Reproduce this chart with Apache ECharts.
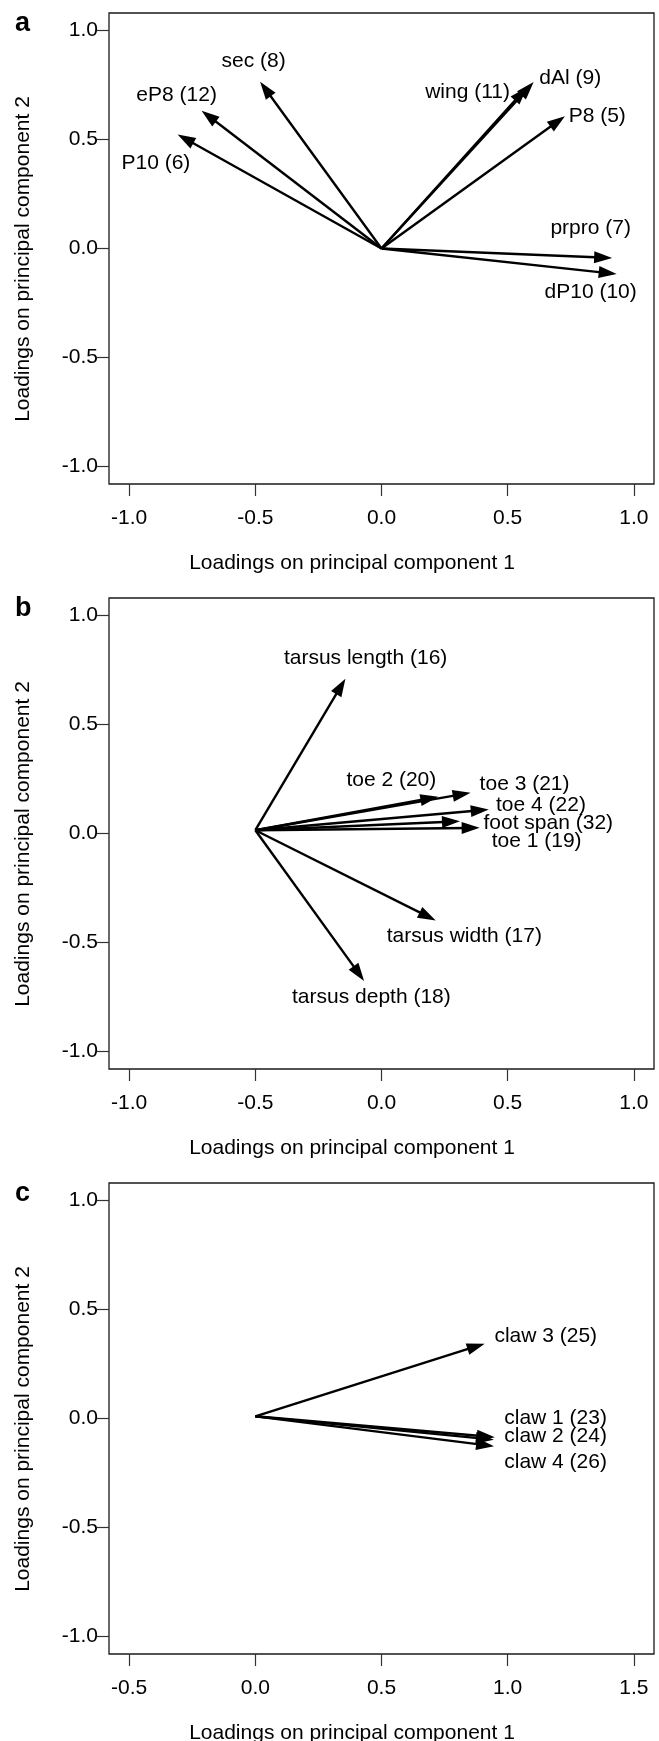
<!DOCTYPE html>
<html>
<head>
<meta charset="utf-8">
<script src="https://cdn.jsdelivr.net/npm/echarts@6/dist/echarts.min.js"></script>
<style>
  html, body { margin: 0; padding: 0; background: #fff; }
  #chart { width: 659px; height: 1741px; }
</style>
</head>
<body>
<div id="chart"></div>
<script>
// tick values
const xTicksAB = [-1, -0.5, 0, 0.5, 1];
const xTicksC = [-0.5, 0, 0.5, 1, 1.5];
const yTicks = [-1, -0.5, 0, 0.5, 1];

// panel a: wing variables
const wingNames = ['sec (8)', 'eP8 (12)', 'P10 (6)', 'wing (11)', 'dAl (9)', 'P8 (5)', 'prpro (7)', 'dP10 (10)'];
const wingPC1 = [-0.481, -0.713, -0.808, 0.577, 0.603, 0.727, 0.914, 0.932];
const wingPC2 = [0.765, 0.632, 0.523, 0.740, 0.763, 0.607, -0.043, -0.117];
const wingLabelX = [-0.507, -0.812, -0.894, 0.341, 0.748, 0.855, 0.829, 0.829];
const wingLabelY = [0.857, 0.704, 0.390, 0.715, 0.781, 0.609, 0.091, -0.201];
const wingOrigin = [0, 0];

// panel b: foot variables
const footNames = ['tarsus length (16)', 'toe 2 (20)', 'toe 3 (21)', 'toe 4 (22)', 'foot span (32)', 'toe 1 (19)', 'tarsus width (17)', 'tarsus depth (18)'];
const footPC1 = [-0.143, 0.225, 0.353, 0.425, 0.311, 0.389, 0.215, -0.069];
const footPC2 = [0.710, 0.168, 0.187, 0.110, 0.056, 0.026, -0.399, -0.676];
const footLabelX = [-0.063, 0.039, 0.567, 0.632, 0.661, 0.615, 0.328, -0.040];
const footLabelY = [0.804, 0.244, 0.225, 0.130, 0.045, -0.036, -0.470, -0.753];
const footOrigin = [-0.5, 0.015];

// panel c: claw variables
const clawNames = ['claw 3 (25)', 'claw 1 (23)', 'claw 2 (24)', 'claw 4 (26)'];
const clawPC1 = [0.909, 0.949, 0.945, 0.946];
const clawPC2 = [0.343, -0.086, -0.097, -0.127];
const clawLabelX = [1.151, 1.190, 1.190, 1.190];
const clawLabelY = [0.378, 0.003, -0.081, -0.199];
const clawOrigin = [0, 0.01];

const font = 'Liberation Sans, Arial, Helvetica, sans-serif';
const fs = 21;

const panels = [
  { letter: 'a', names: wingNames, pc1: wingPC1, pc2: wingPC2, lx: wingLabelX, ly: wingLabelY, origin: wingOrigin, xTicks: xTicksAB, xMin: -1.08, xMax: 1.08 },
  { letter: 'b', names: footNames, pc1: footPC1, pc2: footPC2, lx: footLabelX, ly: footLabelY, origin: footOrigin, xTicks: xTicksAB, xMin: -1.08, xMax: 1.08 },
  { letter: 'c', names: clawNames, pc1: clawPC1, pc2: clawPC2, lx: clawLabelX, ly: clawLabelY, origin: clawOrigin, xTicks: xTicksC, xMin: -0.58, xMax: 1.58 }
];

const step = 585;

function arrowItem(params, api) {
  const p0 = api.coord([api.value(0), api.value(1)]);
  const p1 = api.coord([api.value(2), api.value(3)]);
  const dx = p1[0] - p0[0], dy = p1[1] - p0[1];
  const len = Math.sqrt(dx * dx + dy * dy);
  const ux = dx / len, uy = dy / len;
  const L = 18, W = 6;
  const bx = p1[0] - ux * L, by = p1[1] - uy * L;
  return {
    type: 'group',
    children: [
      {
        type: 'line',
        shape: { x1: p0[0], y1: p0[1], x2: p1[0] - ux * L * 0.6, y2: p1[1] - uy * L * 0.6 },
        style: { stroke: '#000', lineWidth: 2.4 }
      },
      {
        type: 'polygon',
        shape: { points: [[p1[0], p1[1]], [bx - uy * W, by + ux * W], [bx + uy * W, by - ux * W]] },
        style: { fill: '#000' }
      }
    ]
  };
}

const grids = [], xAxes = [], yAxes = [], series = [], graphics = [];

panels.forEach((p, i) => {
  const top = 13 + i * step;
  grids.push({
    left: 109, width: 545, top: top, height: 471,
    show: true, borderColor: '#1a1a1a', borderWidth: 1.3, backgroundColor: 'transparent'
  });
  xAxes.push({
    gridIndex: i, type: 'value', min: p.xMin, max: p.xMax, position: 'bottom',
    axisLine: { show: false, onZero: false },
    splitLine: { show: false },
    axisTick: { show: true, inside: false, length: 12, customValues: p.xTicks, lineStyle: { color: '#333', width: 1.2 } },
    axisLabel: { customValues: p.xTicks, formatter: v => v.toFixed(1), margin: 24, color: '#000', fontSize: fs, fontFamily: font }
  });
  yAxes.push({
    gridIndex: i, type: 'value', min: -1.08, max: 1.08, position: 'left',
    axisLine: { show: false, onZero: false },
    splitLine: { show: false },
    axisTick: { show: true, inside: false, length: 12, customValues: yTicks, lineStyle: { color: '#333', width: 1.2 } },
    axisLabel: { customValues: yTicks, formatter: v => v.toFixed(1), margin: 11, color: '#000', fontSize: fs, fontFamily: font }
  });

  series.push({
    type: 'custom',
    xAxisIndex: i, yAxisIndex: i,
    renderItem: arrowItem,
    encode: { x: [0, 2], y: [1, 3] },
    data: p.pc1.map((x, k) => [p.origin[0], p.origin[1], x, p.pc2[k]]),
    silent: true
  });
  series.push({
    type: 'custom',
    xAxisIndex: i, yAxisIndex: i,
    renderItem: (params, api) => {
      const pt = api.coord([api.value(0), api.value(1)]);
      return {
        type: 'text', x: pt[0], y: pt[1],
        style: { text: p.names[params.dataIndex], align: 'center', verticalAlign: 'middle', fill: '#000', fontSize: fs, fontFamily: font }
      };
    },
    encode: { x: 0, y: 1 },
    data: p.lx.map((x, k) => [x, p.ly[k]]),
    silent: true
  });

  graphics.push({
    type: 'text', left: 15, top: 10 + i * step,
    style: { text: p.letter, fontSize: 27, fontWeight: 'bold', fontFamily: font, fill: '#000' }
  });
  graphics.push({
    type: 'text', x: 352, y: 563 + i * step,
    style: { text: 'Loadings on principal component 1', align: 'center', verticalAlign: 'middle', fontSize: fs, fontFamily: font, fill: '#000' }
  });
  graphics.push({
    type: 'text', x: 23, y: 259 + i * step, rotation: Math.PI / 2,
    style: { text: 'Loadings on principal component 2', align: 'center', verticalAlign: 'middle', fontSize: fs, fontFamily: font, fill: '#000' }
  });
});

const chart = echarts.init(document.getElementById('chart'), null, { renderer: 'canvas' });
chart.setOption({
  animation: false,
  backgroundColor: '#fff',
  grid: grids,
  xAxis: xAxes,
  yAxis: yAxes,
  series: series,
  graphic: graphics
});
</script>
</body>
</html>
